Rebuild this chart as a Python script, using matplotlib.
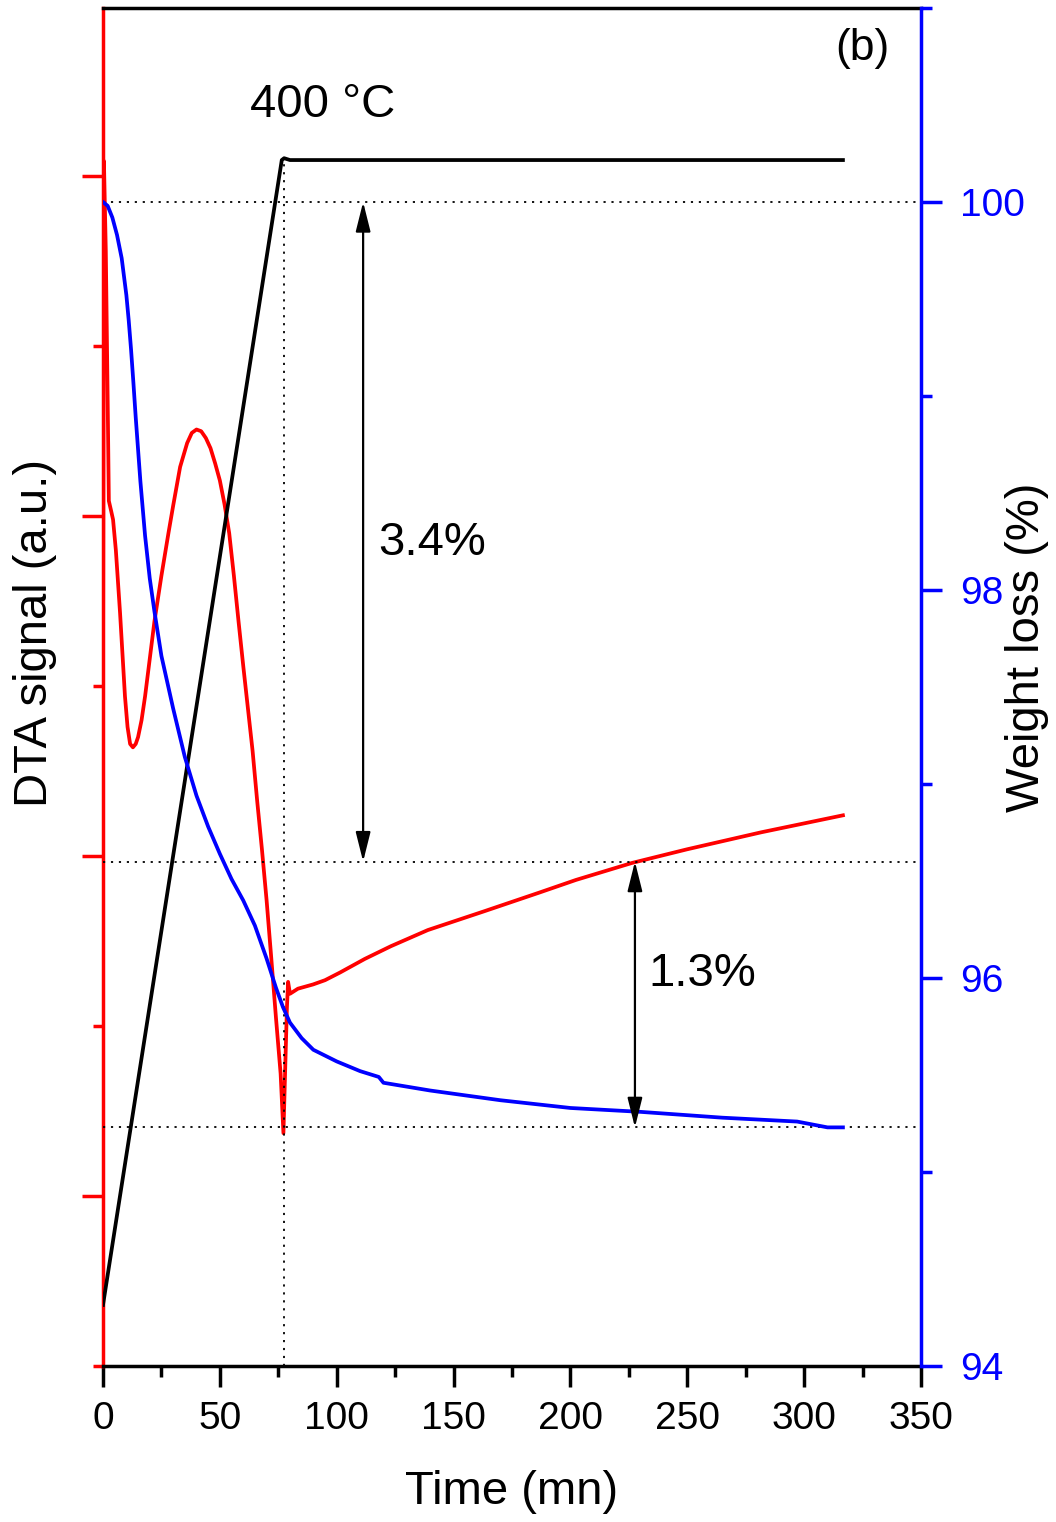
import matplotlib
matplotlib.use("Agg")
import matplotlib.pyplot as plt
from matplotlib.ticker import MultipleLocator, FixedLocator, NullFormatter

plt.rcParams['font.family'] = ['Liberation Sans', 'DejaVu Sans']

# ---- data ----
# DTA signal (arbitrary units)
dta_time = [0, 0.4, 1.2, 2.0, 2.5, 3.5, 4.3, 5.5, 7.3, 9.4, 10.5, 11.6, 12.8, 14.0,
            15.0, 16.5, 18.0, 20.0, 22.0, 25.0, 28.0, 30.0, 33.0, 36.0, 38.0, 40.0,
            42.0, 44.0, 46.0, 48.0, 50.0, 52.0, 54.0, 56.0, 58.0, 60.0, 62.0, 64.0,
            66.0, 68.0, 70.0, 72.0, 74.0, 76.0, 77.2, 77.9, 78.7, 79.2, 80.0, 83.4,
            89.9, 95.0, 101.4, 112.0, 123.2, 139.0, 163.0, 186.6, 202.4, 226.4, 249.9,
            281.6, 316.6]
dta_signal = [3.92, 7.09, 6.56, 5.68, 5.09, 5.03, 4.98, 4.80, 4.43, 3.94, 3.76, 3.66,
              3.64, 3.66, 3.70, 3.80, 3.94, 4.16, 4.38, 4.65, 4.90, 5.06, 5.29, 5.43,
              5.49, 5.51, 5.50, 5.46, 5.40, 5.31, 5.21, 5.07, 4.90, 4.65, 4.38, 4.12,
              3.87, 3.62, 3.32, 3.04, 2.74, 2.40, 2.05, 1.72, 1.37, 1.72, 2.11, 2.26,
              2.19, 2.22, 2.245, 2.27, 2.315, 2.395, 2.47, 2.565, 2.675, 2.785, 2.86,
              2.96, 3.04, 3.14, 3.24]

# Weight (%)
tg_time = [0, 2, 4, 6, 8, 10, 11, 12, 13, 14, 16, 18, 20, 22, 25, 30, 35, 40, 45,
           50, 55, 60, 65, 70, 74, 77, 80, 85, 90, 100, 110, 118, 120, 140, 170,
           200, 230, 265, 297, 310, 316.6]
tg_weight = [100.0, 99.98, 99.92, 99.83, 99.71, 99.52, 99.39, 99.24, 99.07, 98.89,
             98.56, 98.28, 98.06, 97.89, 97.66, 97.39, 97.14, 96.94, 96.78, 96.64,
             96.51, 96.40, 96.27, 96.10, 95.95, 95.85, 95.77, 95.69, 95.63, 95.57,
             95.52, 95.49, 95.46, 95.42, 95.37, 95.33, 95.31, 95.28, 95.26, 95.23,
             95.23]

# Temperature programme (degC)
temp_time = [0, 76.5, 77.5, 80.0, 316.6]
temp_value = [25, 400, 400.6, 400, 400]

# Reference levels / annotations
ref_weights = [100.0, 96.6, 95.23]
ramp_end_time = 77.5
plateau_temp = 400
arrow1 = (111.3, 100.0, 96.6)
arrow2 = (227.6, 96.6, 95.23)

x_major = [0, 50, 100, 150, 200, 250, 300, 350]
w_major = [94, 96, 98, 100]

# ---- figure ----
fig = plt.figure(figsize=(10.56, 15.22), dpi=100)
ax1 = fig.add_axes([103/1056, 1-1366/1522, 818/1056, 1358/1522])
ax3 = ax1.twinx()
ax2 = ax1.twinx()

LW = 2.7
ax1.plot(dta_time, dta_signal, color='#ff0000', lw=LW, solid_joinstyle='round')
ax3.plot(temp_time, temp_value, color='black', lw=LW, solid_joinstyle='round')
ax2.plot(tg_time, tg_weight, color='#0000ff', lw=LW, solid_joinstyle='round')

ax1.set_xlim(0, 350)
ax1.set_ylim(0, 7.99)
ax2.set_ylim(94, 101)
ax3.set_ylim(5, 449.8)
ax3.axis('off')

# dotted guide lines
dot = (0, (1.2, 3.2))
for w in ref_weights:
    ax2.axhline(w, color='black', lw=1.3, ls=dot, zorder=1)
ax3.vlines(ramp_end_time, 5, plateau_temp, color='black', lw=1.3, ls=dot)

# arrows
for (xa, y0, y1) in (arrow1, arrow2):
    ax2.annotate('', xy=(xa, y1), xytext=(xa, y0),
                 arrowprops=dict(arrowstyle='<|-|>,head_length=1.8,head_width=0.45',
                                 color='black', lw=1.6, shrinkA=0, shrinkB=0))

ax2.text(117.7, 98.24, '3.4%', fontsize=34, va='center', ha='left')
ax2.text(233.2, 96.02, '1.3%', fontsize=34, va='center', ha='left')
ax2.text(62.9, 100.5, '400 °C', fontsize=34, va='center', ha='left')
ax2.text(313.2, 100.79, '(b)', fontsize=32, va='center', ha='left')

# spines
SW = 2.5
for a in (ax2, ax3):
    for s in ('left', 'top', 'bottom'):
        a.spines[s].set_visible(False)
ax1.spines['right'].set_visible(False)
ax1.spines['left'].set_color('#ff0000')
ax1.spines['bottom'].set_color('black')
ax1.spines['top'].set_color('black')
ax2.spines['right'].set_color('#0000ff')
for s in ('left', 'top', 'bottom'):
    ax1.spines[s].set_linewidth(SW)
ax2.spines['right'].set_linewidth(SW)

# x ticks
ax1.xaxis.set_major_locator(FixedLocator(x_major))
ax1.xaxis.set_minor_locator(MultipleLocator(25))
ax1.tick_params(axis='x', which='major', direction='out', length=15, width=SW,
                labelsize=28, pad=10, color='black')
ax1.tick_params(axis='x', which='minor', direction='out', length=8, width=SW,
                color='black')

# left ticks (no labels)
ax1.yaxis.set_major_locator(FixedLocator([1, 3, 5, 7]))
ax1.yaxis.set_minor_locator(FixedLocator([0, 2, 4, 6, 8]))
ax1.yaxis.set_major_formatter(NullFormatter())
ax1.tick_params(axis='y', which='major', direction='out', length=15, width=SW,
                color='#ff0000')
ax1.tick_params(axis='y', which='minor', direction='out', length=7.5, width=SW,
                color='#ff0000')

# right ticks
ax2.yaxis.set_major_locator(FixedLocator(w_major))
ax2.yaxis.set_minor_locator(FixedLocator([95, 97, 99, 101]))
ax2.tick_params(axis='y', which='major', direction='out', length=15, width=SW,
                color='#0000ff', labelcolor='#0000ff', labelsize=28, pad=13)
ax2.tick_params(axis='y', which='minor', direction='out', length=8, width=SW,
                color='#0000ff')

ax1.set_xlabel('Time (mn)', fontsize=34)
ax1.xaxis.set_label_coords(0.499, -0.0766)
ax1.set_ylabel('DTA signal (a.u.)', fontsize=34)
ax1.yaxis.set_label_coords(-0.056, 0.540)
ax2.set_ylabel('Weight loss (%)', fontsize=34)
ax2.yaxis.set_label_coords(1.1027, 0.529)

fig.savefig('out.png', dpi=100)
